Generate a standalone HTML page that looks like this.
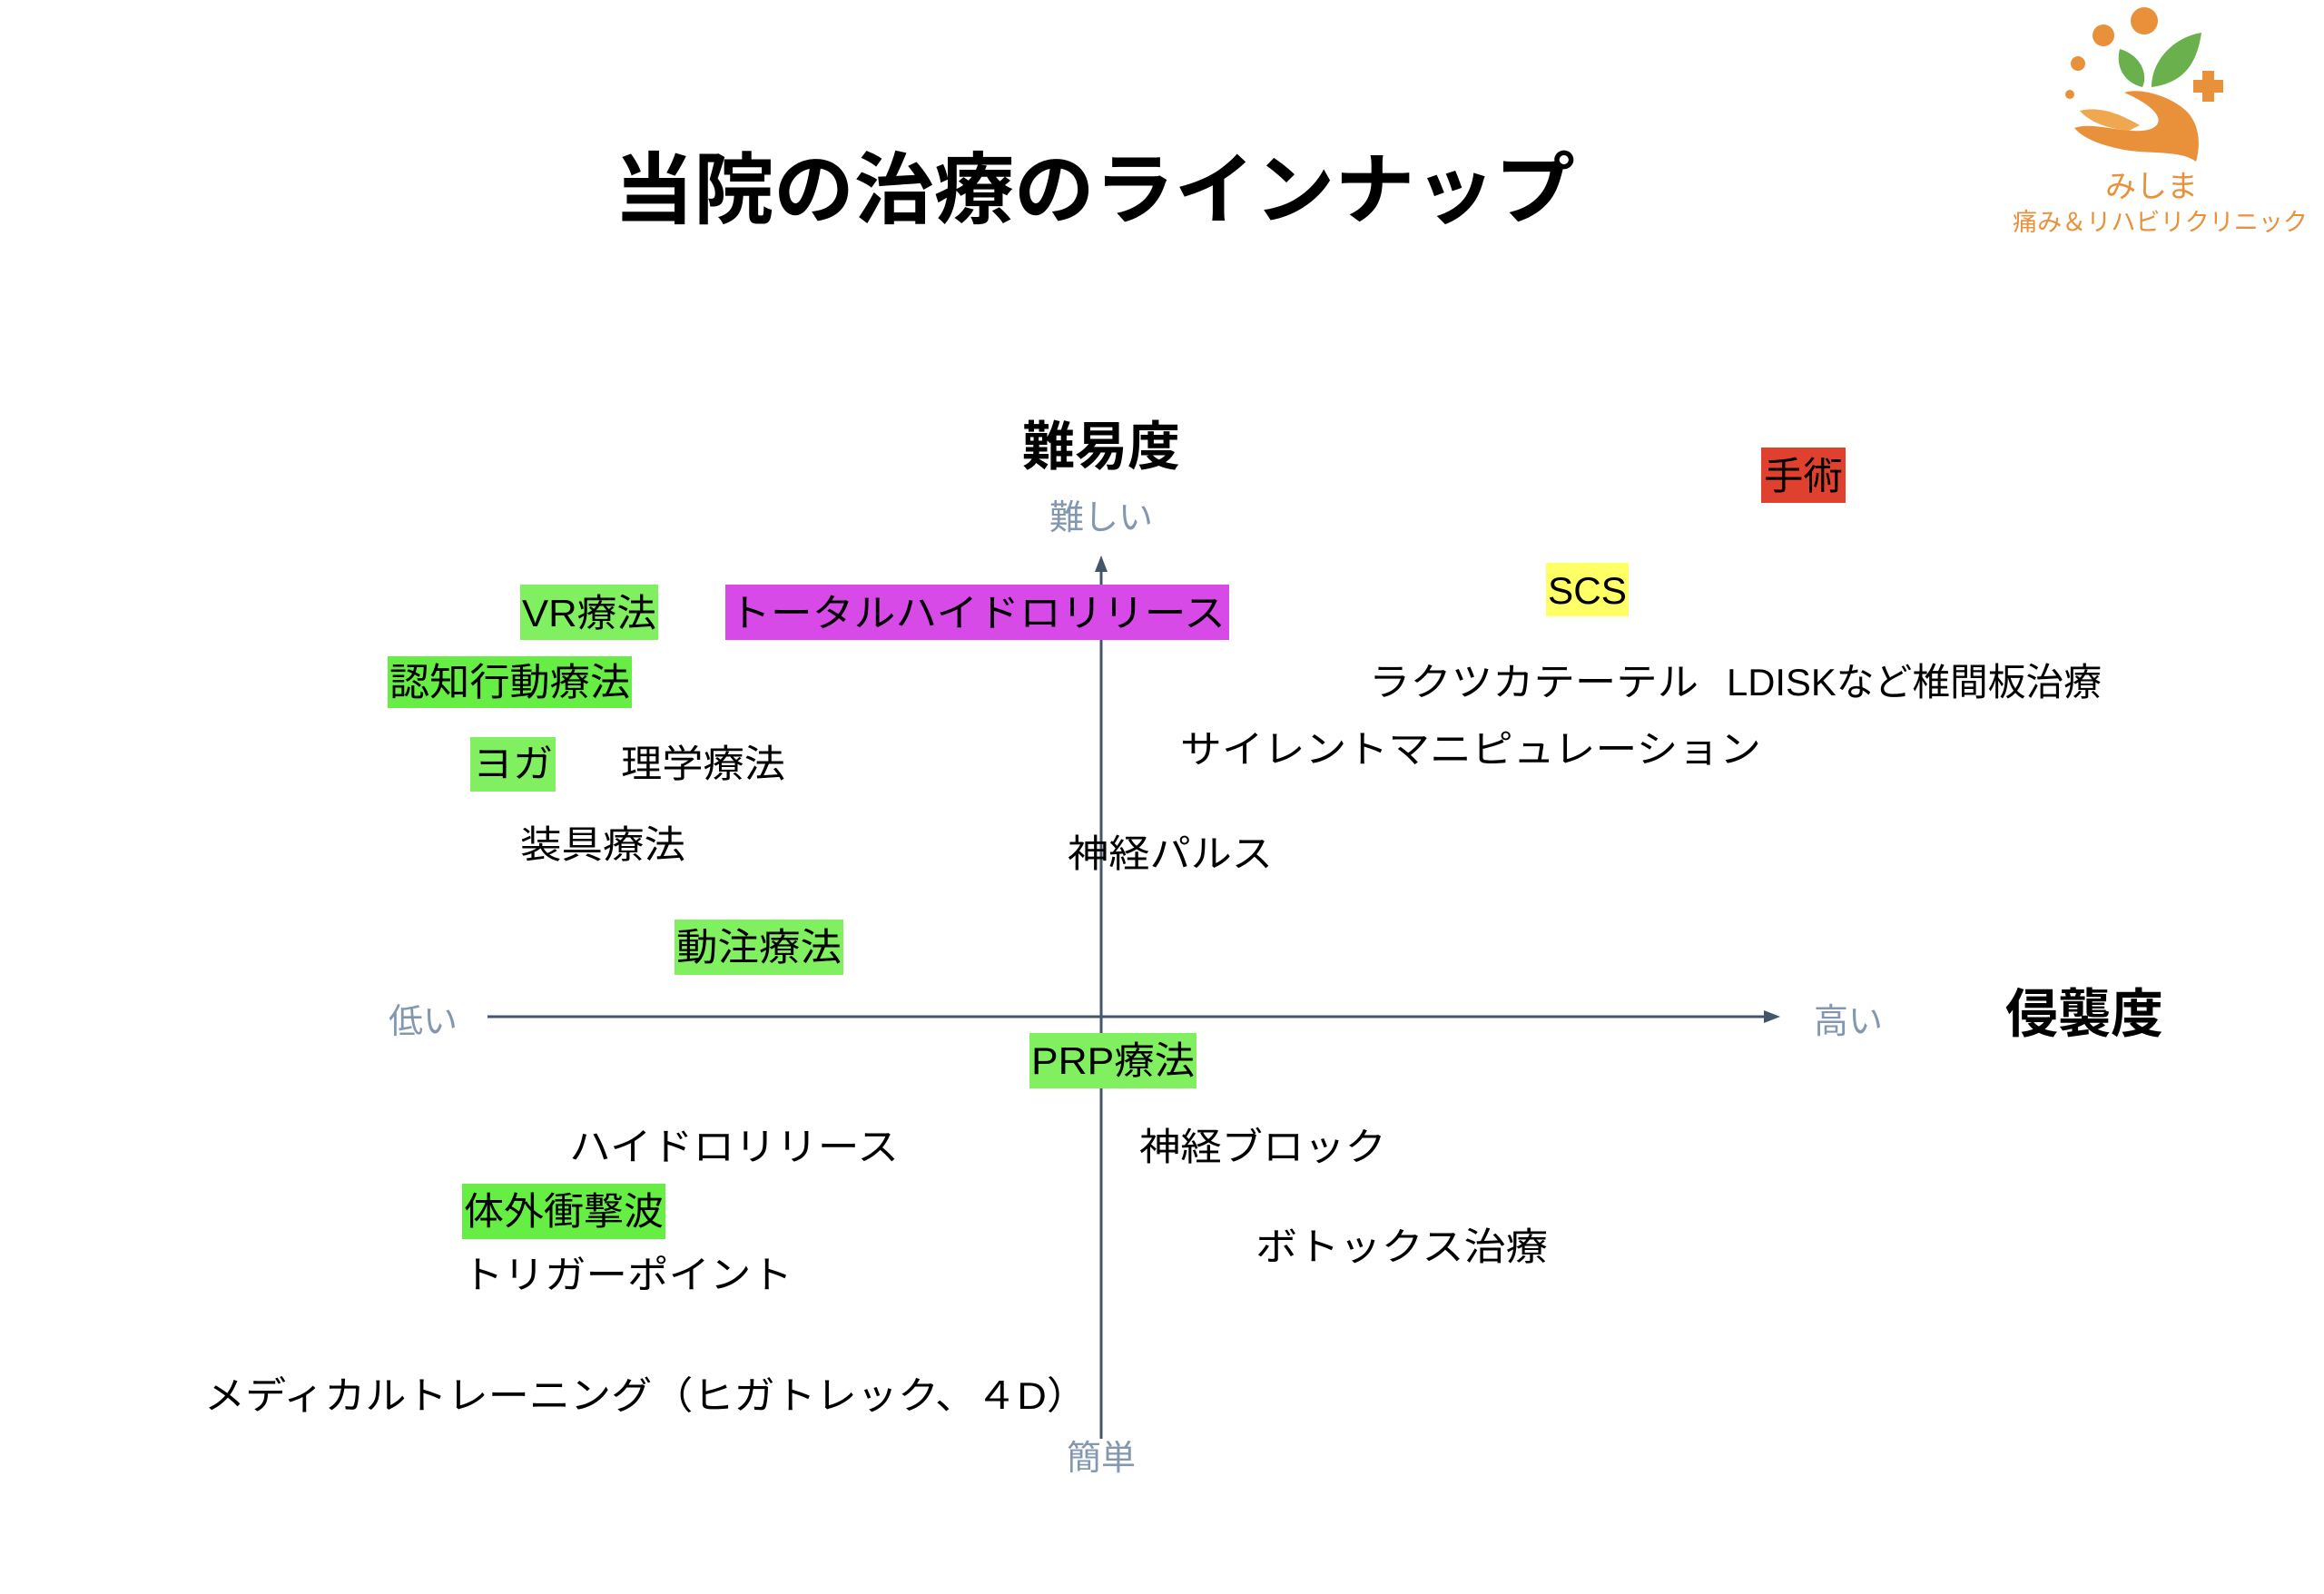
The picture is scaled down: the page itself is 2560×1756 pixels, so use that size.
<!DOCTYPE html>
<html><head><meta charset="utf-8"><style>
html,body{margin:0;padding:0;background:#fff;}
svg{display:block;font-family:"Liberation Sans","Noto Sans CJK JP",sans-serif;}
</style></head><body>
<svg width="2560" height="1756" viewBox="0 0 2560 1756" xmlns="http://www.w3.org/2000/svg">
<rect width="2560" height="1756" fill="#fff"/>
<g transform="translate(-5,-4)">
<!-- Logo -->
<g fill="#e8913a">
<circle cx="2367" cy="27" r="15"/><circle cx="2322" cy="43" r="12"/><circle cx="2294" cy="74" r="8"/><circle cx="2285" cy="108" r="5"/>
<rect x="2421" y="92" width="33" height="14"/><rect x="2431" y="82" width="13" height="34"/>
<path d="M2290 145 C2310 138 2340 150 2365 148 C2388 146 2395 128 2345 106 C2362 100 2398 110 2415 128 C2430 145 2428 168 2424 182 C2405 168 2370 175 2340 168 C2312 162 2298 154 2290 145 Z"/>
<path d="M2296 126 C2320 120 2345 132 2362 142 L2350 148 C2330 146 2308 140 2296 126Z" fill="#f0a850"/>
</g>
<g fill="#6ab04c">
<path d="M2340 58 C2362 64 2372 85 2365 100 C2345 95 2335 78 2340 58Z"/>
<path d="M2430 40 C2425 75 2410 95 2375 100 C2375 70 2400 45 2430 40Z"/>
</g>
<text x="2375" y="221" font-size="34" fill="#e8913a" text-anchor="middle">みしま</text>
<text x="2222" y="258" font-size="27" fill="#e8913a" textLength="325" lengthAdjust="spacingAndGlyphs">痛み＆リハビリクリニック</text>

<!-- Title -->
<text x="681" y="243" font-size="86" font-weight="bold" fill="#000" textLength="1059" lengthAdjust="spacingAndGlyphs">当院の治療のラインナップ</text>

<!-- Axes -->
<g stroke="#44546a" stroke-width="3" fill="none">
<line x1="1218" y1="632" x2="1218" y2="1589"/>
<line x1="542" y1="1124" x2="1952" y2="1124"/>
</g>
<path d="M1218 616 L1211 634 L1225 634Z" fill="#44546a"/>
<path d="M1966 1124 L1948 1117 L1948 1131Z" fill="#44546a"/>

<g font-size="58" font-weight="bold" fill="#000" text-anchor="middle">
<text x="1218" y="516">難易度</text>
<text x="2301" y="1141">侵襲度</text>
</g>
<g font-size="38" fill="#8497b0" text-anchor="middle">
<text x="1218" y="587">難しい</text>
<text x="1218" y="1623">簡単</text>
<text x="471" y="1142">低い</text>
<text x="2041" y="1142">高い</text>
</g>

<!-- Boxes -->
<rect x="1945" y="497" width="93" height="61" fill="#e0412f"/>
<rect x="1708" y="624" width="91" height="59" fill="#ffff66"/>
<rect x="578" y="648" width="152" height="61" fill="#80f060"/>
<rect x="804" y="648" width="555" height="61" fill="#d84ae8"/>
<rect x="432" y="727" width="269" height="57" fill="#66ee44"/>
<rect x="523" y="816" width="94" height="60" fill="#80f060"/>
<rect x="748" y="1017" width="186" height="61" fill="#80f060"/>
<rect x="1139" y="1142" width="184" height="61" fill="#80f060"/>
<rect x="514" y="1308" width="224" height="61" fill="#66ee44"/>

<g font-size="42" fill="#000">
<text x="1948" y="543" textLength="87" lengthAdjust="spacingAndGlyphs">手術</text>
<text x="1710" y="669" textLength="87" lengthAdjust="spacingAndGlyphs">SCS</text>
<text x="580" y="694" textLength="148" lengthAdjust="spacingAndGlyphs">VR療法</text>
<text x="808" y="694" textLength="547" lengthAdjust="spacingAndGlyphs">トータルハイドロリリース</text>
<text x="434" y="770" textLength="265" lengthAdjust="spacingAndGlyphs">認知行動療法</text>
<text x="526" y="860" textLength="88" lengthAdjust="spacingAndGlyphs">ヨガ</text>
<text x="689" y="860" textLength="181" lengthAdjust="spacingAndGlyphs">理学療法</text>
<text x="578" y="949" textLength="182" lengthAdjust="spacingAndGlyphs">装具療法</text>
<text x="750" y="1062" textLength="182" lengthAdjust="spacingAndGlyphs">動注療法</text>
<text x="1181" y="959" textLength="226" lengthAdjust="spacingAndGlyphs">神経パルス</text>
<text x="1513" y="770" textLength="363" lengthAdjust="spacingAndGlyphs">ラクツカテーテル</text>
<text x="1907" y="770" textLength="413" lengthAdjust="spacingAndGlyphs">LDISKなど椎間板治療</text>
<text x="1305" y="844" textLength="640" lengthAdjust="spacingAndGlyphs">サイレントマニピュレーション</text>
<text x="1141" y="1187" textLength="180" lengthAdjust="spacingAndGlyphs">PRP療法</text>
<text x="632" y="1282" textLength="363" lengthAdjust="spacingAndGlyphs">ハイドロリリース</text>
<text x="1260" y="1282" textLength="272" lengthAdjust="spacingAndGlyphs">神経ブロック</text>
<text x="516" y="1353" textLength="220" lengthAdjust="spacingAndGlyphs">体外衝撃波</text>
<text x="1388" y="1392" textLength="322" lengthAdjust="spacingAndGlyphs">ボトックス治療</text>
<text x="514" y="1423" textLength="364" lengthAdjust="spacingAndGlyphs">トリガーポイント</text>
<text x="230" y="1556" textLength="973" lengthAdjust="spacingAndGlyphs">メディカルトレーニング（ヒガトレック、４D）</text>
</g>
</g>
</svg>
</body></html>
